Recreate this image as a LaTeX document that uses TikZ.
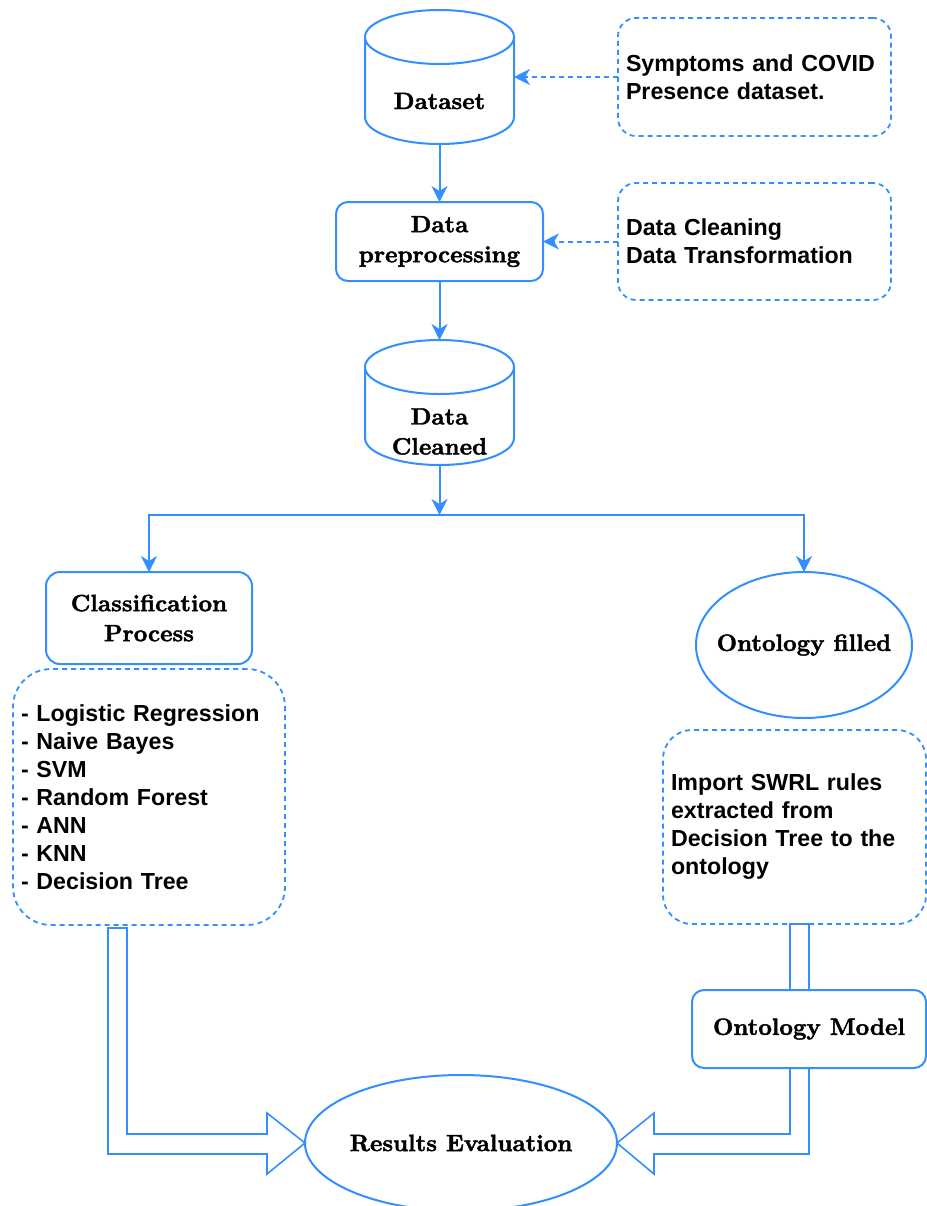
\documentclass[tikz,border=0pt]{standalone}
\usepackage{fontspec}
\setsansfont{Liberation Sans}
\newfontfamily\titlefont{lmroman10-bold.otf}[FakeBold=1.8]
\usetikzlibrary{shapes.geometric, arrows.meta, calc}
\definecolor{flowblue}{RGB}{51,143,255}
\tikzset{
  line/.style={draw=flowblue, line width=1pt},
  flow/.style={line, -{Stealth[length=8pt, width=8pt, inset=2.5pt]}},
  hint/.style={draw=flowblue, line width=1pt, dash pattern=on 2.5pt off 2pt,
    -{Stealth[length=8pt, width=8pt, inset=2.5pt]}},
  title/.style={font=\fontsize{11.8pt}{15pt}\selectfont\titlefont, align=center, inner sep=0pt},
  stepbox/.style={line, title, outer sep=0pt},
  notebox/.style={draw=flowblue, line width=0.9pt, dash pattern=on 2.5pt off 2pt,
    font=\fontsize{11.6pt}{14pt}\selectfont\sffamily\bfseries, align=left,
    inner xsep=4pt, inner ysep=0pt, outer sep=0pt},
  drumbox/.style={inner sep=0pt, outer sep=0pt, minimum width=74.5pt},
  oval/.style={line, ellipse, title, inner xsep=-8pt, outer sep=0pt},
  hollow/.style={draw=flowblue, line width=0.8pt, line join=miter},
}
% cylinder outline drawn on a named node
\newcommand{\drum}[1]{%
  \draw[line] ([yshift=-13.5pt]#1.north west) -- ([yshift=13.5pt]#1.south west)
    arc[start angle=180, end angle=360, x radius=37.25pt, y radius=13.5pt]
    -- ([yshift=-13.5pt]#1.north east)
    arc[start angle=0, end angle=180, x radius=37.25pt, y radius=13.5pt]
    arc[start angle=180, end angle=360, x radius=37.25pt, y radius=13.5pt];}

\begin{document}
\begin{tikzpicture}[x=0.5pt, y=-0.5pt]
    \useasboundingbox (0,0) rectangle (927,1206);
    % main column
    \node[drumbox, minimum height=67pt] (dataset) at (439.5,77) {};
    \drum{dataset}
    \node[title] (dataset-text) at ($(dataset)+(0,24)$) {Dataset};
    \node[stepbox, rounded corners=6pt, minimum width=103.5pt, minimum height=39.5pt] (prep) at (439.5,241.5) {Data\\preprocessing};
    \node[drumbox, minimum height=62.5pt] (cleaned) at (439.5,402.5) {};
    \drum{cleaned}
    \node[title] (cleaned-text) at ($(cleaned)+(0,29)$) {Data\\Cleaned};
    \coordinate (split) at (439.5,515);

    % notes on the right
    \node[notebox, rounded corners=9pt, minimum width=136.5pt, minimum height=59pt, text width=128.5pt] (symptoms) at (754.5,77) {Symptoms and COVID\\Presence dataset.};
    \node[notebox, rounded corners=9pt, minimum width=136.5pt, minimum height=58.5pt, text width=128.5pt] (cleaning) at (754.5,241.5) {Data Cleaning\\Data Transformation};

    % two branches
    \node[stepbox, rounded corners=7pt, minimum width=103pt, minimum height=46pt] (classif) at (149,618) {Classification\\Process};
    \node[notebox, rounded corners=19pt, minimum width=136pt, minimum height=128pt, text width=128pt] (algos) at (149,797) {- Logistic Regression\\- Naive Bayes\\- SVM\\- Random Forest\\- ANN\\- KNN\\- Decision Tree};
    \node[oval, minimum width=108pt, minimum height=73pt] (filled) at (804,645) {Ontology filled};
    \node[notebox, rounded corners=14.5pt, minimum width=131.5pt, minimum height=97pt, text width=123.5pt] (rules) at (794.5,827) {Import SWRL rules\\extracted from\\Decision Tree to the\\ontology};
    \node[stepbox, rounded corners=6pt, minimum width=117pt, minimum height=39pt] (model) at (809,1029) {Ontology Model};
    \node[oval, minimum width=156pt, minimum height=68pt] (results) at (461,1143) {Results Evaluation};

    % connectors
    \draw[flow] (dataset.south) -- (prep.north);
    \draw[flow] (prep.south) -- (cleaned.north);
    \draw[flow] (cleaned.south) -- (split);
    \draw[flow] (split) -| (classif.north);
    \draw[flow] (split) -| (filled.north);
    \draw[hint] (symptoms.west) -- (dataset.east);
    \draw[hint] (cleaning.west) -- (prep.east);

    % hollow arrows
    \draw[hollow] (results.west) -- ++(-38,-30) -- ++(0,21) -| ($(algos.south)+(-22,3)$)
        -- ++(-19,0) |- ($(results.west)+(-38,11)$) -- ++(0,20) -- cycle;
    \draw[hollow] ($(model.north)+(-19,0)$) rectangle (model.north |- rules.south);
    \draw[hollow] (results.east) -- ++(37,-30) -- ++(0,21) -| ($(model.south)+(-19,0)$)
        -- (model.south) |- ($(results.east)+(37,11)$) -- ++(0,20) -- cycle;
\end{tikzpicture}
\end{document}
